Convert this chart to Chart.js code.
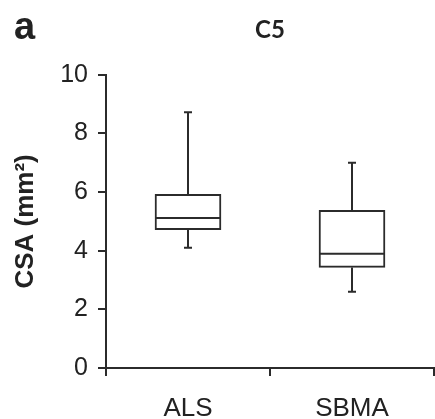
<!DOCTYPE html>
<html>
<head>
<meta charset="utf-8">
<script src="https://cdn.jsdelivr.net/npm/chart.js@4"></script>
<style>
    html, body { margin: 0; padding: 0; background: #fff; }
    #wrap { position: relative; width: 435px; height: 419px; }
    #panel {
        position: absolute; left: 14px; top: 7px;
        font: bold 38px "Liberation Sans", Arial, sans-serif;
        line-height: 38px; color: #222;
    }
</style>
</head>
<body>
<div id="wrap">
    <canvas id="boxChart" width="435" height="419"></canvas>
    <div id="panel">a</div>
</div>
<script>
// box plot values, CSA (mm²) at C5
const groups = ['ALS', 'SBMA'];
const whiskerMin = [4.1, 2.6];
const quartile1 = [4.72, 3.43];
const medians = [5.12, 3.9];
const quartile3 = [5.92, 5.38];
const whiskerMax = [8.72, 7.0];
const yTicks = [0, 2, 4, 6, 8, 10];

const lineColor = '#2b2b2b';

// whiskers, caps and medians drawn from the scales
const boxExtras = {
    id: 'boxExtras',
    afterDatasetsDraw(chart) {
        const ctx = chart.ctx;
        const xs = chart.scales.x;
        const ys = chart.scales.y;
        const meta = chart.getDatasetMeta(0);
        ctx.save();
        ctx.strokeStyle = lineColor;
        ctx.lineWidth = 2;
        groups.forEach((g, i) => {
            const x = xs.getPixelForValue(i);
            const half = meta.data[i].width / 2;
            const cap = 4;
            ctx.beginPath();
            ctx.moveTo(x, ys.getPixelForValue(whiskerMax[i]));
            ctx.lineTo(x, ys.getPixelForValue(quartile3[i]));
            ctx.moveTo(x, ys.getPixelForValue(quartile1[i]));
            ctx.lineTo(x, ys.getPixelForValue(whiskerMin[i]));
            ctx.moveTo(x - cap, ys.getPixelForValue(whiskerMax[i]));
            ctx.lineTo(x + cap, ys.getPixelForValue(whiskerMax[i]));
            ctx.moveTo(x - cap, ys.getPixelForValue(whiskerMin[i]));
            ctx.lineTo(x + cap, ys.getPixelForValue(whiskerMin[i]));
            ctx.moveTo(x - half, ys.getPixelForValue(medians[i]));
            ctx.lineTo(x + half, ys.getPixelForValue(medians[i]));
            ctx.stroke();
        });
        ctx.restore();
    }
};

const ctx = document.getElementById('boxChart').getContext('2d');

new Chart(ctx, {
    type: 'bar',
    data: {
        labels: groups,
        datasets: [{
            label: 'C5',
            data: groups.map((g, i) => [quartile1[i], quartile3[i]]),
            backgroundColor: '#ffffff',
            borderColor: lineColor,
            borderWidth: 2,
            borderSkipped: false,
            barThickness: 66
        }]
    },
    options: {
        responsive: false,
        animation: false,
        layout: {
            padding: { top: 0, right: 1, bottom: 0, left: 0 }
        },
        plugins: {
            legend: { display: false },
            tooltip: { enabled: false },
            title: {
                display: true,
                text: 'C5',
                fullSize: false,
                color: '#222',
                font: { family: 'Lato', size: 24, weight: 'bold' },
                padding: { top: 16, bottom: 30 }
            }
        },
        scales: {
            x: {
                afterFit(scale) {
                    scale.height = 51;
                },
                grid: {
                    offset: true,
                    drawOnChartArea: false,
                    drawTicks: true,
                    tickLength: 8,
                    color: lineColor,
                    lineWidth: 2
                },
                border: { display: true, color: lineColor, width: 2 },
                ticks: {
                    color: '#222',
                    padding: 17,
                    font: { family: 'Liberation Sans', size: 26 }
                }
            },
            y: {
                min: 0,
                max: 10,
                afterBuildTicks(scale) {
                    scale.ticks = yTicks.map(v => ({ value: v }));
                },
                afterFit(scale) {
                    scale.width = 106;
                },
                grid: {
                    drawOnChartArea: false,
                    drawTicks: true,
                    tickLength: 8,
                    color: lineColor,
                    lineWidth: 2
                },
                border: { display: true, color: lineColor, width: 2 },
                ticks: {
                    color: '#222',
                    padding: 10,
                    font: { family: 'Liberation Sans', size: 25 }
                },
                title: {
                    display: true,
                    text: 'CSA (mm²)',
                    color: '#222',
                    padding: { top: 10, bottom: 0 },
                    font: { family: 'Liberation Sans', size: 26, weight: 'bold' }
                }
            }
        }
    },
    plugins: [boxExtras]
});
</script>
</body>
</html>
